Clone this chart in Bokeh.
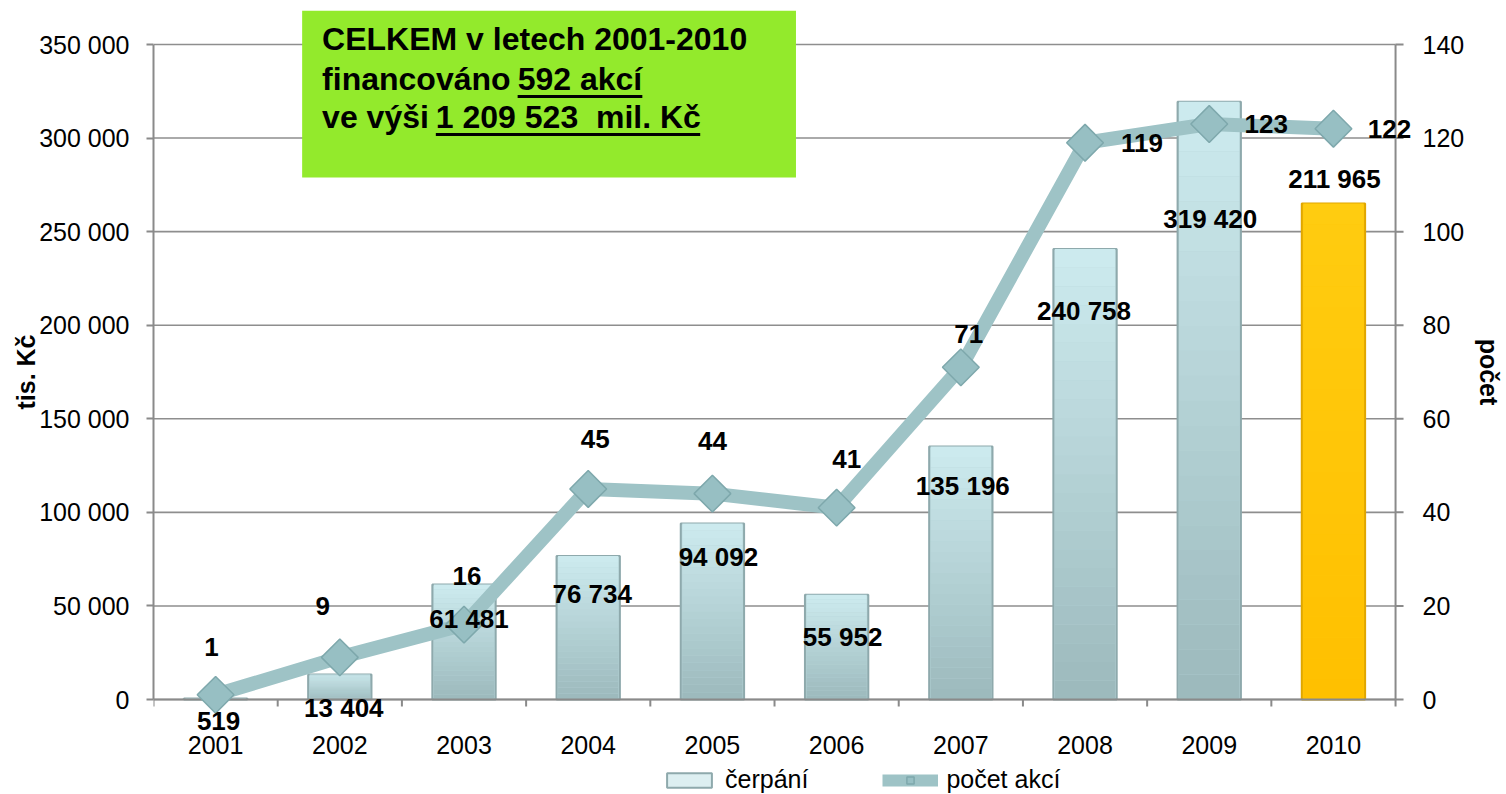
import numpy as np
from bokeh.plotting import figure
from bokeh.layouts import column
from bokeh.models import (Range1d, LinearAxis, FixedTicker, Label,
                          Legend, LegendItem, ColumnDataSource)
from bokeh.core.properties import value
from bokeh.embed import file_html
from bokeh.resources import INLINE

# ---------------- data ----------------
years = ["2001", "2002", "2003", "2004", "2005", "2006", "2007", "2008", "2009", "2010"]
cerpani_heights = [519, 13404, 61481, 76734, 94092, 55952, 135196, 240758, 319420, 265000]
cerpani_labels = ["519", "13 404", "61 481", "76 734", "94 092", "55 952",
                  "135 196", "240 758", "319 420", "211 965"]
pocet_akci = [1, 9, 16, 45, 44, 41, 71, 119, 123, 122]
left_ticks = [0, 50000, 100000, 150000, 200000, 250000, 300000, 350000]
left_tick_labels = ["0", "50 000", "100 000", "150 000", "200 000", "250 000", "300 000", "350 000"]
right_ticks = [0, 20, 40, 60, 80, 100, 120, 140]
right_tick_labels = ["0", "20", "40", "60", "80", "100", "120", "140"]

# ---------------- style / layout ----------------
FONT = "Liberation Sans"
GRAY = "#8A8A8A"
W, H_MAIN, H_LEG = 1506, 764, 30
FR_L, FR_R_AXIS, FR_R, FR_T = 153, 1398, 1420, 10     # frame pixel edges
ZERO_PX, FR_B = 699, 733                               # pixel of value 0, frame bottom
AX_T = 44                                              # pixel of the top tick
bar_bottom_colors = ["#9CB9BC"] * 9 + ["#FFC000"]
bar_top_colors = ["#CDEBEF"] * 9 + ["#FFCC10"]
bar_line_colors = ["#8EA9AC"] * 9 + ["#E0A600"]
bar_label_dx = [3, 4, 5, 4, 6, 6, 2, -1, 1, 1]
bar_label_dy = [22, 34, 35, 38, 34, 42, 40, 62, 117, -25]
cnt_label_dx = [-4, -17, 3, 7, 0, 10, 8, 57, 57, 56]
cnt_label_dy = [-48, -51, -49, -50, -53, -49, -33, 0, 0, 0]
LINE_COLOR = "#9EC3C6"
DIA_FILL, DIA_LINE = "#97BFC3", "#7EA8AC"

n = len(years)
xs = np.arange(1, n + 1)
BW = 0.51
px_x = (FR_R_AXIS - FR_L) / n                 # pixels per category
y_max = left_ticks[-1]
px_y = (ZERO_PX - AX_T) / y_max               # pixels per unit (left)
c_max = right_ticks[-1]
px_c = (ZERO_PX - AX_T) / c_max               # pixels per unit (right)


def px2y(py):
    return (ZERO_PX - py) / px_y


def px2c(py):
    return (ZERO_PX - py) / px_c


def px2x(pxx):
    return (pxx - FR_L) / px_x + 0.5


p = figure(width=W, height=H_MAIN, output_backend="svg", toolbar_location=None,
           x_range=Range1d(0.5, px2x(FR_R)), y_range=Range1d(px2y(FR_B), px2y(FR_T)),
           min_border_left=FR_L, min_border_right=W - FR_R, min_border_top=FR_T,
           min_border_bottom=H_MAIN - FR_B)
p.extra_y_ranges = {"cnt": Range1d(px2c(FR_B), px2c(FR_T))}
p.outline_line_color = None
p.background_fill_color = "white"
p.xgrid.grid_line_color = None
p.ygrid.grid_line_color = None

# gridlines (limited to the category span)
p.segment(x0=0.5, x1=n + 0.5, y0=left_ticks, y1=left_ticks, line_color="#8E8E8E", line_width=1.6)

# left axis
ya = p.yaxis[0]
ya.ticker = FixedTicker(ticks=left_ticks)
ya.bounds = (0, y_max)
ya.major_label_overrides = {t: s for t, s in zip(left_ticks, left_tick_labels)}
ya.axis_line_color = GRAY
ya.axis_line_width = 2
ya.major_tick_line_color = GRAY
ya.major_tick_line_width = 2
ya.major_tick_out = 7
ya.major_tick_in = 0
ya.minor_tick_line_color = None
ya.major_label_standoff = 17
ya.major_label_text_font = FONT
ya.major_label_text_font_size = "25px"
ya.major_label_text_color = "black"
ya.axis_label = "tis. Kč"
ya.axis_label_text_font = FONT
ya.axis_label_text_font_size = "25px"
ya.axis_label_text_font_style = "bold"
ya.axis_label_text_color = "black"
ya.axis_label_standoff = -4

# right axis (labels only; line and ticks drawn at the category edge)
ra = LinearAxis(y_range_name="cnt", ticker=FixedTicker(ticks=right_ticks))
ra.major_label_overrides = {t: s for t, s in zip(right_ticks, right_tick_labels)}
ra.axis_line_color = None
ra.major_tick_line_color = None
ra.major_tick_out = 0
ra.major_tick_in = 0
ra.minor_tick_line_color = None
ra.major_label_standoff = 5
ra.major_label_text_font = FONT
ra.major_label_text_font_size = "25px"
ra.major_label_text_color = "black"
ra.axis_label = "počet"
ra.axis_label_text_font = FONT
ra.axis_label_text_font_size = "25px"
ra.axis_label_text_font_style = "bold"
ra.axis_label_text_color = "black"
ra.axis_label_standoff = 8
p.add_layout(ra, "right")
p.segment(x0=n + 0.5, x1=n + 0.5, y0=0, y1=c_max, y_range_name="cnt",
          line_color=GRAY, line_width=2)
p.segment(x0=n + 0.5, x1=n + 0.5 + 8 / px_x, y0=right_ticks, y1=right_ticks,
          y_range_name="cnt", line_color=GRAY, line_width=2)

# bottom axis: labels from the axis, axis line and boundary ticks drawn at value 0
xa = p.xaxis[0]
xa.ticker = FixedTicker(ticks=list(xs))
xa.major_label_overrides = {int(x): y for x, y in zip(xs, years)}
xa.axis_line_color = None
xa.major_tick_line_color = None
xa.major_tick_out = 0
xa.major_tick_in = 0
xa.minor_tick_line_color = None
xa.major_label_standoff = 2
xa.major_label_text_font = FONT
xa.major_label_text_font_size = "25px"
xa.major_label_text_color = "black"
bounds_x = np.arange(0.5, n + 1, 1.0)
p.segment(x0=bounds_x, x1=bounds_x, y0=0, y1=-7 / px_y, line_color=GRAY, line_width=2)


def mix(c1, c2, t):
    a = [int(c1[i:i + 2], 16) for i in (1, 3, 5)]
    b = [int(c2[i:i + 2], 16) for i in (1, 3, 5)]
    return "#%02x%02x%02x" % tuple(int(round(a[j] + (b[j] - a[j]) * t)) for j in range(3))


# green summary box
p.quad(left=px2x(302), right=px2x(797), bottom=px2y(177), top=px2y(FR_T),
       fill_color="#93EA2C", line_color=None)

# base bars
p.quad(left=xs - BW / 2, right=xs + BW / 2, bottom=0, top=cerpani_heights,
       fill_color=[mix(b, t, 0.5) for b, t in zip(bar_bottom_colors, bar_top_colors)],
       line_color=bar_line_colors, line_width=2)

# vertical gradient slices
N = 24
L, R, B, T, C = [], [], [], [], []
for i, v in enumerate(cerpani_heights):
    for k in range(N):
        L.append(xs[i] - BW / 2 + 0.012)
        R.append(xs[i] + BW / 2 - 0.012)
        B.append(v * k / N)
        T.append(v * (k + 1) / N)
        C.append(mix(bar_bottom_colors[i], bar_top_colors[i], (k + 0.5) / N))
p.quad(left=L, right=R, bottom=B, top=T, fill_color=C, line_color=None)

# x axis line at zero
p.segment(x0=0.5, x1=n + 0.5, y0=0, y1=0, line_color=GRAY, line_width=2)

# line + diamonds
p.line(xs, pocet_akci, y_range_name="cnt", line_width=14, line_color=LINE_COLOR)
p.scatter(xs, pocet_akci, y_range_name="cnt", marker="square", angle=np.pi / 4, size=26,
          fill_color=DIA_FILL, line_color=DIA_LINE, line_width=1.5)

# bar value labels
src_b = ColumnDataSource(dict(x=xs, y=cerpani_heights, t=cerpani_labels,
                              dx=bar_label_dx, dy=bar_label_dy))
p.text(x="x", y="y", text="t", x_offset="dx", y_offset="dy", source=src_b,
       text_align="center", text_baseline="middle", text_font=value(FONT),
       text_font_size="26px", text_font_style="bold", text_color="black")

# count labels
src_c = ColumnDataSource(dict(x=xs, y=pocet_akci, t=[str(v) for v in pocet_akci],
                              dx=cnt_label_dx, dy=cnt_label_dy))
p.text(x="x", y="y", text="t", x_offset="dx", y_offset="dy", source=src_c, y_range_name="cnt",
       text_align="center", text_baseline="middle", text_font=value(FONT),
       text_font_size="26px", text_font_style="bold", text_color="black")

# box texts
for (tx, ty, txt) in [(322, 38, "CELKEM v letech 2001-2010"),
                      (322, 78, "financováno"),
                      (518, 78, "592 akcí"),
                      (322, 116, "ve výši"),
                      (436, 116, "1 209 523 \u00a0mil. Kč")]:
    p.add_layout(Label(x=px2x(tx), y=px2y(ty), text=txt, text_font=FONT, text_font_size="32px",
                       text_font_style="bold", text_color="black", text_baseline="alphabetic"))
p.quad(left=[px2x(518), px2x(436)], right=[px2x(643), px2x(701)],
       bottom=[px2y(97.5), px2y(135.5)], top=[px2y(94.5), px2y(132.5)],
       fill_color="black", line_color=None)

# ---------------- legend strip ----------------
lf = figure(width=W, height=H_LEG, output_backend="svg", toolbar_location=None,
            x_range=Range1d(0, W), y_range=Range1d(0, H_LEG),
            x_axis_type=None, y_axis_type=None, min_border=0)
lf.outline_line_color = None
lf.xgrid.grid_line_color = None
lf.ygrid.grid_line_color = None
leg_bar = lf.quad(left=[-20], right=[-10], bottom=[0], top=[1],
                  fill_color="#DDEFF1", line_color="#8EA9AC", line_width=2)
leg_line = lf.line([-20, -10], [0, 0], line_width=12, line_color=LINE_COLOR)
leg_dia = lf.scatter([-20], [0], marker="square", angle=np.pi / 4, size=22,
                     fill_color=DIA_FILL, line_color=DIA_LINE, line_width=1.5)
legend = Legend(items=[LegendItem(label="čerpání", renderers=[leg_bar]),
                       LegendItem(label="počet akcí", renderers=[leg_line, leg_dia])],
                location=(508, 0), orientation="horizontal",
                label_text_font=FONT, label_text_font_size="25px", label_text_color="black",
                glyph_width=56, glyph_height=18, label_height=26, label_standoff=8,
                spacing=74, padding=0, margin=0, border_line_color=None,
                background_fill_alpha=0)
lf.add_layout(legend, "center")

open("out.html", "w").write(file_html(column(p, lf, spacing=0), INLINE))
